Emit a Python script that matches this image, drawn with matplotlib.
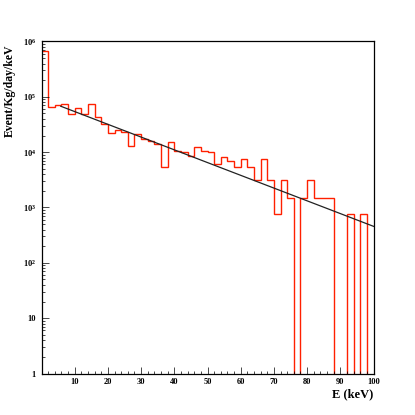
import numpy as np
import matplotlib
matplotlib.use("Agg")
import matplotlib.pyplot as plt
from matplotlib.ticker import FixedLocator, FuncFormatter, NullFormatter

plt.rcParams['font.family'] = ['Liberation Serif', 'DejaVu Serif']
plt.rcParams['font.weight'] = 'bold'
plt.rcParams['mathtext.fontset'] = 'custom'
plt.rcParams['mathtext.rm'] = 'Liberation Serif:bold'
plt.rcParams['mathtext.bf'] = 'Liberation Serif:bold'

# spectrum, 2 keV bins from 0 to 100 keV (Event/Kg/day/keV)
bin_edges = np.arange(0, 102, 2)
rate = [6.6e5, 6.5e4, 7.2e4, 7.5e4, 4.9e4, 6.2e4, 4.9e4, 7.4e4, 4.4e4, 3.2e4,
        2.2e4, 2.5e4, 2.3e4, 1.3e4, 2.1e4, 1.7e4, 1.6e4, 1.4e4, 5.4e3, 1.5e4,
        1.07e4, 1.0e4, 8.5e3, 1.23e4, 1.07e4, 1.0e4, 6.0e3, 8.3e3, 6.9e3, 5.4e3,
        7.6e3, 5.4e3, 3.1e3, 7.6e3, 3.1e3, 7.6e2, 3.1e3, 1.5e3, 0, 1.5e3,
        3.1e3, 1.5e3, 1.5e3, 1.5e3, 0, 0, 7.6e2, 0, 7.6e2, 0]

# exponential fit  A * exp(-E / tau)
fit_A = 9.2e4
fit_tau = 18.85
fit_range = (5.8, 100)

fig = plt.figure(figsize=(4.15, 4.15), dpi=100)
ax = fig.add_axes([0.1, 0.1, 0.8, 0.8])

vals = np.array(rate, dtype=float)
vals = np.where(vals > 0, vals, 1e-3)  # empty bins fall to the bottom
ax.stairs(vals, bin_edges, color='#ff2000', lw=1.0, baseline=None)

E = np.linspace(fit_range[0], fit_range[1], 200)
ax.plot(E, fit_A * np.exp(-E / fit_tau), color='#222222', lw=0.9)

ax.set_yscale('log')
ax.set_xlim(0, 100)
ax.set_ylim(1, 1e6)

ax.xaxis.set_major_locator(FixedLocator(np.arange(0, 101, 10)))
ax.xaxis.set_minor_locator(FixedLocator(np.arange(0, 101, 2)))
ax.xaxis.set_major_formatter(FuncFormatter(lambda v, p: '' if v == 0 else '%d' % v))

decades = 10.0 ** np.arange(0, 7)
ax.yaxis.set_major_locator(FixedLocator(decades))
ax.yaxis.set_minor_locator(FixedLocator([d * k for d in decades[:-1] for k in range(2, 10)]))
ax.yaxis.set_minor_formatter(NullFormatter())


def ylab(v, p):
    n = int(round(np.log10(v)))
    if n == 0:
        return '1'
    if n == 1:
        return '10'
    return r'$\mathbf{10^{%d}}$' % n


ax.yaxis.set_major_formatter(FuncFormatter(ylab))

ax.tick_params(which='both', direction='in', top=False, right=False,
               width=0.5, labelsize=6)
ax.tick_params(which='major', length=4.8)
ax.tick_params(which='minor', length=2.4)
ax.tick_params(axis='x', pad=3)
ax.tick_params(axis='y', pad=4)
for s in ax.spines.values():
    s.set_linewidth(0.9)

fig.text(0.8995, 0.049, 'E (keV)', ha='right', va='center', fontsize=9, fontweight='bold')
fig.text(0.024, 0.892, 'Event/Kg/day/keV', ha='center', va='top', rotation=90,
         fontsize=8.5, fontweight='bold')

fig.savefig('out.png', dpi=100)
